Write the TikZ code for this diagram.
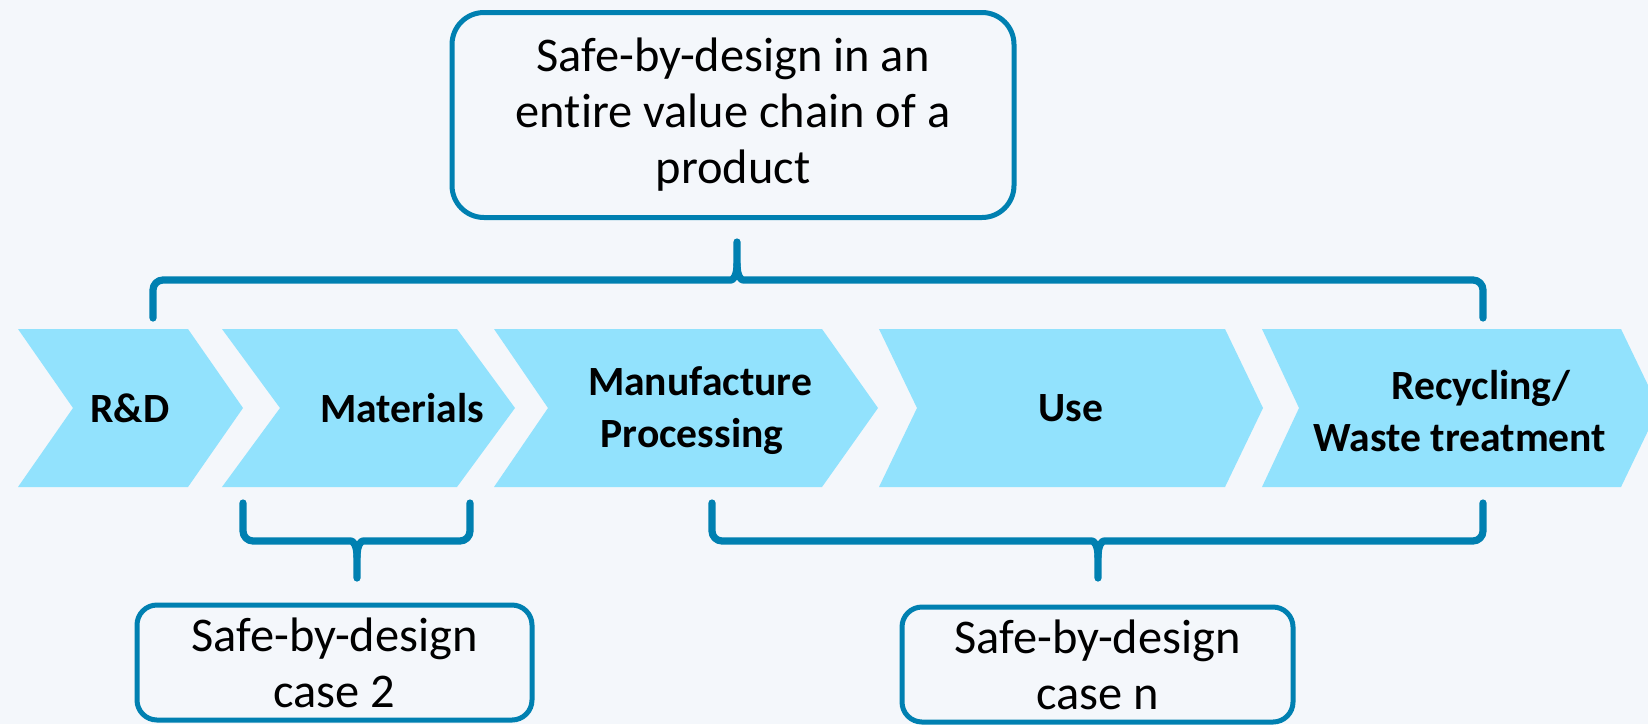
\documentclass[tikz,border=0pt]{standalone}
\usepackage{fontspec}
\setmainfont{Carlito}[Ligatures=NoCommon]
\usetikzlibrary{calc}

\definecolor{chevblue}{HTML}{92E2FD}
\definecolor{linkblue}{HTML}{0080B1}
\definecolor{paper}{HTML}{F4F7FB}

\tikzset{
  stage/.style={font=\fontsize{20.8}{26}\selectfont\bfseries, align=center, inner sep=0pt},
  casebox/.style={draw=linkblue, line width=2.5pt, rounded corners=10pt, align=center,
    font=\fontsize{24.2}{28}\selectfont, inner sep=0pt},
  brace/.style={draw=linkblue, line width=3.6pt, line cap=round, line join=round},
}

\begin{document}
\begin{tikzpicture}[x=0.5pt, y=-0.5pt]
    % Canvas
    \useasboundingbox (0,0) rectangle (1648,724);
    \fill[paper] (0,0) rectangle (1648,724);

    % Value chain
    \fill[chevblue] (18,329) -- (188,329) -- (243,408) -- (188,487) -- (18,487) -- (73,408) -- cycle;
    \fill[chevblue] (222,329) -- (457,329) -- (515,408) -- (457,487) -- (222,487) -- (280,408) -- cycle;
    \fill[chevblue] (494,329) -- (822,329) -- (878,408) -- (822,487) -- (494,487) -- (548,408) -- cycle;
    \fill[chevblue] (879,329) -- (1225,329) -- (1263,408) -- (1225,487) -- (879,487) -- (917,408) -- cycle;
    \fill[chevblue] (1262,329) -- (1621,329) -- (1659,408) -- (1621,487) -- (1262,487) -- (1299,408) -- cycle;

    % Stage labels
    \node[stage] (rd) at (130,408) {R\&D};
    \node[stage] (mat) at (402,408) {Materials};
    \node[stage] (man) at (692,411) {\hspace*{8pt}Manufacture\\Processing};
    \node[stage] (use) at (1071,408) {Use};
    \node[stage] (rec) at (1460,411) {\hspace*{21pt}Recycling/\\Waste treatment};

    % Boxes
    \node[casebox, rounded corners=16pt, minimum width=281pt, minimum height=102.5pt] (chain) at (733,115)
        {Safe-by-design in an\\entire value chain of a\\product};
    \node[casebox, minimum width=197.5pt, minimum height=57.5pt] (case2) at (334.5,662.5) {Safe-by-design\\case 2};
    \node[casebox, minimum width=195.5pt, minimum height=57.5pt] (casen) at (1097.5,664.5) {Safe-by-design\\case n};

    % Braces
    \coordinate (chaintip) at (737,242);
    \coordinate (case2tip) at (357,578);
    \coordinate (casentip) at (1098,578);

    \draw[brace] (153,318) [rounded corners=5pt] |- (721,280) [sharp corners]
        .. controls (733,280) and (737,276) .. (737,264) -- (chaintip);
    \draw[brace] (1483,318) [rounded corners=5pt] |- (753,280) [sharp corners]
        .. controls (741,280) and (737,276) .. (737,264);

    \draw[brace] (243,503) [rounded corners=5pt] |- (341,541) [sharp corners]
        .. controls (353,541) and (357,545) .. (357,557) -- (case2tip);
    \draw[brace] (470,503) [rounded corners=5pt] |- (373,541) [sharp corners]
        .. controls (361,541) and (357,545) .. (357,557);

    \draw[brace] (712,503) [rounded corners=5pt] |- (1082,541) [sharp corners]
        .. controls (1094,541) and (1098,545) .. (1098,557) -- (casentip);
    \draw[brace] (1483,503) [rounded corners=5pt] |- (1114,541) [sharp corners]
        .. controls (1102,541) and (1098,545) .. (1098,557);
\end{tikzpicture}
\end{document}
